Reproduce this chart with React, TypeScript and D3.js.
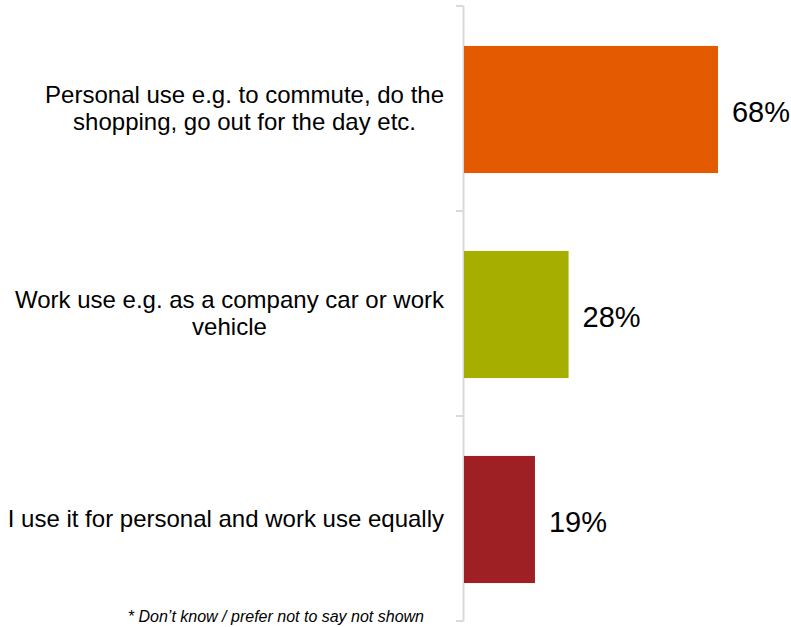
import React, { useEffect, useRef } from "react";
import * as d3 from "d3";

const categories: string[][] = [
  ["Personal use e.g. to commute, do the", "shopping, go out for the day etc."],
  ["Work use e.g. as a company car or work", "vehicle"],
  ["I use it for personal and work use equally"],
];
const values: number[] = [68, 28, 19];
const colors: string[] = ["#E35A00", "#A6AE00", "#9E1F24"];
const footnote = "* Don\u2019t know / prefer not to say not shown";

const W = 791;
const H = 627;

export default function App() {
  const ref = useRef<SVGSVGElement | null>(null);
  useEffect(() => {
    const svg = d3.select(ref.current);
    svg.selectAll("*").remove();
    const axisX = 463.5;
    const y = d3.scaleBand<number>().domain(d3.range(values.length)).range([6, 621]).padding(0);
    const x = d3.scaleLinear().domain([0, 80]).range([464, 464 + 298.8]);
    const barFrac = 0.62;
    const font = "Liberation Sans, Arial, sans-serif";

    // axis
    svg.append("line").attr("x1", axisX).attr("x2", axisX).attr("y1", 6).attr("y2", 621)
      .attr("stroke", "#D9D9D9").attr("stroke-width", 2);
    const ticks = [6, ...values.map((_, i) => (y(i) as number) + y.bandwidth())];
    ticks.forEach((t) => {
      svg.append("line").attr("x1", 456).attr("x2", axisX).attr("y1", t).attr("y2", t)
        .attr("stroke", "#D9D9D9").attr("stroke-width", 2);
    });

    values.forEach((v, i) => {
      const bw = y.bandwidth();
      const bh = bw * barFrac;
      const cy = (y(i) as number) + bw / 2 + 1;
      svg.append("rect").attr("x", x(0)).attr("y", cy - bh / 2).attr("width", x(v) - x(0)).attr("height", bh)
        .attr("fill", colors[i]);
      svg.append("text").attr("x", x(v) + 14).attr("y", cy + 2).attr("dy", "0.35em")
        .attr("font-family", font).attr("font-size", 29).attr("fill", "#000").text(`${v}%`);

      const lines = categories[i];
      const g = svg.append("g");
      const lh = 27;
      const texts = lines.map((ln, j) =>
        g.append("text").attr("y", cy - 1 + (j - (lines.length - 1) / 2) * lh).attr("dy", "0.35em")
          .attr("font-family", font).attr("font-size", 24).attr("fill", "#000")
          .attr("text-anchor", "middle").text(ln)
      );
      const maxW = d3.max(texts, (t) => (t.node() as SVGTextElement).getComputedTextLength()) || 0;
      texts.forEach((t) => t.attr("x", 444 - maxW / 2));
    });

    svg.append("text").attr("x", 424).attr("y", 622).attr("text-anchor", "end")
      .attr("font-family", font).attr("font-size", 16).attr("font-style", "italic").attr("fill", "#000")
      .text(footnote);
  }, []);
  return (
    <svg ref={ref} width={W} height={H} style={{ position: "absolute", left: 0, top: 0, background: "#fff" }} />
  );
}
